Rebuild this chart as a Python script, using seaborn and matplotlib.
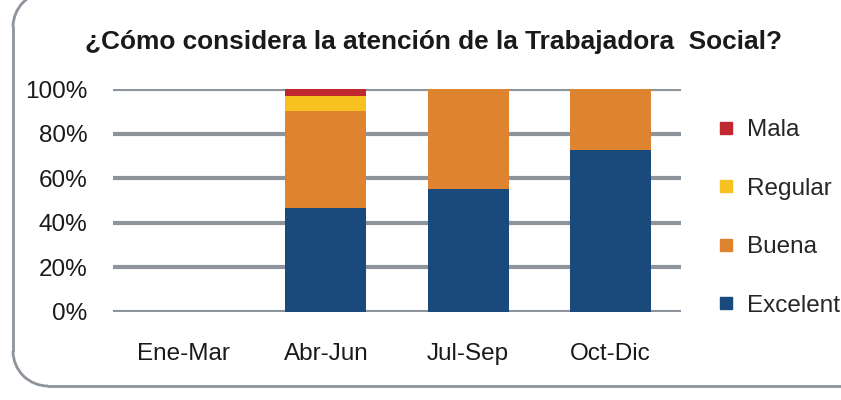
import numpy as np
import pandas as pd
import matplotlib.pyplot as plt
import seaborn as sns
from matplotlib.lines import Line2D
from matplotlib.patches import Arc
from matplotlib.ticker import PercentFormatter

# Datos (porcentajes por trimestre); Ene-Mar sin datos
periodos = ['Ene-Mar', 'Abr-Jun', 'Jul-Sep', 'Oct-Dic']
excelente = [np.nan, 46.7, 55.0, 72.7]
buena = [np.nan, 43.3, 45.0, 27.3]
regular = [np.nan, 6.7, 0, 0]
mala = [np.nan, 3.3, 0, 0]

categorias = ['Excelente', 'Buena', 'Regular', 'Mala']
colores = ['#1a4a7c', '#de8431', '#f7c11f', '#c0282f']

df = pd.DataFrame({'Periodo': periodos, 'Excelente': excelente, 'Buena': buena,
                   'Regular': regular, 'Mala': mala})
# acumulados para apilar (se dibuja del total hacia abajo)
cum = df[categorias].cumsum(axis=1)
cum['Periodo'] = df['Periodo']

sns.set_theme(style='white')
plt.rcParams['font.family'] = ['Liberation Sans', 'DejaVu Sans']

fig = plt.figure(figsize=(8.41, 4), dpi=100)
ax = fig.add_axes([0.134, 0.22, 0.676, 0.5575])

for cat, col in reversed(list(zip(categorias, colores))):
    sns.barplot(data=cum, x='Periodo', y=cat, order=periodos, color=col,
                saturation=1, width=0.57, ax=ax, zorder=3, linewidth=0)

ax.set_ylim(0, 100)
ax.set_xlim(-0.5, 3.5)
ax.set_yticks([0, 20, 40, 60, 80, 100])
ax.yaxis.set_major_formatter(PercentFormatter(decimals=0))
ax.grid(axis='y', color='#8e949c', linewidth=3, zorder=0)
ax.set_axisbelow(True)
for s in ax.spines.values():
    s.set_visible(False)
ax.set_xlabel('')
ax.set_ylabel('')
ax.tick_params(axis='y', length=0, pad=18, labelsize=17.5, labelcolor='#1a1a1a')
ax.tick_params(axis='x', length=0, pad=22, labelsize=17.5, labelcolor='#1a1a1a')

fig.text(0.516, 0.895, '¿Cómo considera la atención de la Trabajadora  Social?',
         ha='center', va='center', fontsize=18.9, fontweight='bold', color='#1a1a1a')

handles = [Line2D([], [], marker='s', linestyle='none', markersize=9,
                  color=c, label=l) for l, c in zip(categorias, colores)][::-1]
fig.legend(handles=handles, loc='upper left', bbox_to_anchor=(0.852, 0.702),
           frameon=False, fontsize=17.5, labelspacing=1.5, handletextpad=0.45,
           handlelength=0.8, borderaxespad=0, borderpad=0)

# marco redondeado (solo borde izquierdo e inferior visibles)
gris = '#8e949c'
r = 0.35
tr = fig.dpi_scale_trans
fig.add_artist(Arc((0.13 + r, 3.73), 2 * r, 2 * r, theta1=90, theta2=180,
                   transform=tr, color=gris, linewidth=2))
fig.add_artist(Arc((0.13 + r, 0.14 + r), 2 * r, 2 * r, theta1=180, theta2=270,
                   transform=tr, color=gris, linewidth=2))
fig.add_artist(Line2D([0.13, 0.13], [0.14 + r, 3.73], transform=tr,
                      color=gris, linewidth=2))
fig.add_artist(Line2D([0.13 + r, 8.6], [0.14, 0.14], transform=tr,
                      color=gris, linewidth=2))

fig.savefig('out.png', dpi=100)
